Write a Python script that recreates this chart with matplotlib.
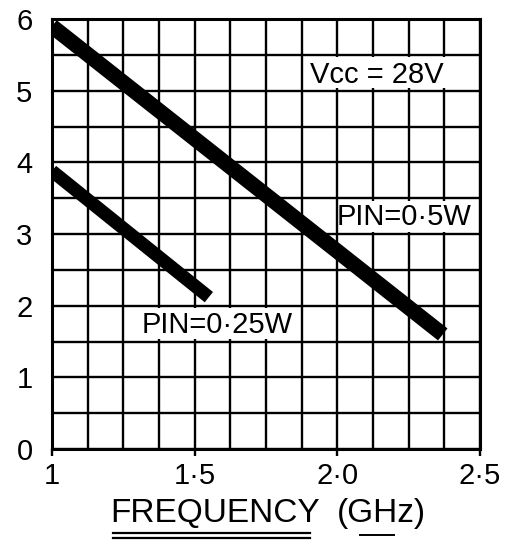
import numpy as np
import matplotlib.pyplot as plt
from matplotlib.patches import Rectangle
from matplotlib.lines import Line2D

# output power (W) vs frequency (GHz), Vcc = 28 V
freq_05 = [1.0, 2.37]
pout_05 = [5.9, 1.6]

freq_025 = [1.0, 1.55]
pout_025 = [3.88, 2.12]

x_ticks = [1.0, 1.5, 2.0, 2.5]
x_tick_labels = ['1', '1·5', '2·0', '2·5']
y_ticks = [0, 1, 2, 3, 4, 5, 6]

plt.rcParams['font.family'] = ['Liberation Sans', 'DejaVu Sans']

fig = plt.figure(figsize=(5.25, 5.45), dpi=100)
ax = fig.add_axes([0.099, 0.176, 0.815, 0.789])

ax.set_xlim(1.0, 2.5)
ax.set_ylim(0, 6)

# grid paper: 0.125 GHz by 0.5 W cells
ax.set_xticks(x_ticks)
ax.set_xticklabels(x_tick_labels, fontsize=21)
ax.set_xticks(np.arange(1.0, 2.501, 0.125), minor=True)
ax.set_yticks(y_ticks)
ax.set_yticklabels([str(v) for v in y_ticks], fontsize=21)
ax.set_yticks(np.arange(0, 6.01, 0.5), minor=True)
ax.set_axisbelow(True)
ax.grid(which='both', color='black', linewidth=1.7)
ax.tick_params(axis='x', which='major', direction='out', length=5, width=1.7, pad=4)
ax.tick_params(axis='x', which='minor', length=0)
ax.tick_params(axis='y', which='both', length=0, pad=14)
for s in ax.spines.values():
    s.set_linewidth(2.2)

# blank out the cells that hold the labels
for x0, x1, y0, y1 in [(1.875, 2.5, 5.0, 5.5), (2.0, 2.5, 3.0, 3.5), (1.25, 1.875, 1.5, 2.0)]:
    ax.add_patch(Rectangle((x0 + 0.012, y0 + 0.035), x1 - x0 - 0.024, y1 - y0 - 0.07,
                           facecolor='white', edgecolor='none', zorder=1))

ax.plot(freq_05, pout_05, color='black', linewidth=11, solid_capstyle='butt', zorder=2)
ax.plot(freq_025, pout_025, color='black', linewidth=9.5, solid_capstyle='butt', zorder=2)

ax.text(2.14, 5.22, 'Vcc = 28V', fontsize=21, ha='center', va='center', zorder=3)
ax.text(2.235, 3.24, 'PIN=0·5W', fontsize=21, ha='center', va='center', zorder=3)
ax.text(1.58, 1.73, 'PIN=0·25W', fontsize=21, ha='center', va='center', zorder=3)

# axis title with hand-drawn underlines
fig.text(0.41, 0.058, 'FREQUENCY', fontsize=24, ha='center', va='center')
fig.text(0.727, 0.058, '(GHz)', fontsize=24, ha='center', va='center')
for y in [0.022, 0.013]:
    fig.add_artist(Line2D([0.215, 0.59], [y, y], color='black', linewidth=1.6))
fig.add_artist(Line2D([0.686, 0.75], [0.019, 0.019], color='black', linewidth=1.4))

fig.savefig('out.png', dpi=100)
